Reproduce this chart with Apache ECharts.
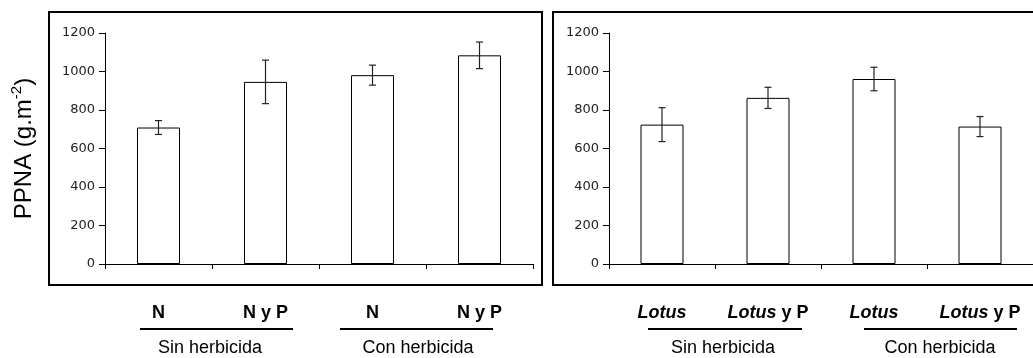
<!DOCTYPE html>
<html>
<head>
<meta charset="utf-8">
<script src="https://cdn.jsdelivr.net/npm/echarts@6/dist/echarts.min.js"></script>
<style>
  html, body { margin: 0; padding: 0; background: #fff; }
  #chart { width: 1033px; height: 358px; }
</style>
</head>
<body>
<div id="chart"></div>
<script>
// Aboveground net primary production (PPNA), mean ± error, per treatment
const categoriesLeft = ['N', 'N y P', 'N', 'N y P'];
const valuesLeft = [709, 946, 981, 1084];
const errorsLeft = [36, 113, 52, 69];

const categoriesRight = ['Lotus', 'Lotus y P', 'Lotus', 'Lotus y P'];
const valuesRight = [724, 863, 961, 714];
const errorsRight = [88, 55, 61, 52];

const groupLabels = ['Sin herbicida', 'Con herbicida'];
const yMin = 0, yMax = 1200, yStep = 200;

const SANS = '"Liberation Sans", Arial, sans-serif';
const TICKFONT = '"DejaVu Sans", Verdana, sans-serif';

function leftLabel(v) {
  return '{b|' + v + '}';
}
function rightLabel(v) {
  return v === 'Lotus' ? '{i|Lotus}' : '{i|Lotus}{b| y P}';
}

const catRich = {
  b: { fontFamily: SANS, fontWeight: 'bold', fontSize: 18, color: '#000' },
  i: { fontFamily: SANS, fontWeight: 'bold', fontStyle: 'italic', fontSize: 18, color: '#000' }
};

function xAxisFor(gridIndex, cats, fmt) {
  return {
    type: 'category',
    gridIndex: gridIndex,
    data: cats,
    axisLine: { lineStyle: { color: '#000', width: 1 } },
    axisTick: { show: true, alignWithLabel: false, length: 5, lineStyle: { color: '#000' } },
    axisLabel: { margin: 40, formatter: fmt, rich: catRich, interval: 0 },
    splitLine: { show: false }
  };
}

function yAxisFor(gridIndex, withName) {
  const ax = {
    type: 'value',
    gridIndex: gridIndex,
    min: yMin, max: yMax, interval: yStep,
    axisLine: { show: true, lineStyle: { color: '#000', width: 1 } },
    axisTick: { show: true, length: 6, lineStyle: { color: '#000' } },
    axisLabel: {
      margin: 10, fontFamily: TICKFONT, fontSize: 13, color: '#222',
      formatter: v => String(v)
    },
    splitLine: { show: false }
  };
  if (withName) {
    ax.name = '{a|PPNA (g.m}{s|-2}{a|)}';
    ax.nameLocation = 'middle';
    ax.nameRotate = 90;
    ax.nameGap = 66;
    ax.nameTextStyle = {
      rich: {
        a: { fontFamily: SANS, fontSize: 24, color: '#000', lineHeight: 30 },
        s: { fontFamily: SANS, fontSize: 15, color: '#000', verticalAlign: 'top', lineHeight: 30 }
      }
    };
  }
  return ax;
}

function barSeries(idx, values) {
  return {
    type: 'bar',
    xAxisIndex: idx, yAxisIndex: idx,
    data: values,
    barWidth: 43,
    itemStyle: { color: '#fff', borderColor: '#000', borderWidth: 1 },
    silent: true
  };
}

function errorSeries(idx, values, errors) {
  return {
    type: 'custom',
    xAxisIndex: idx, yAxisIndex: idx,
    data: values.map((v, i) => [i, v - errors[i], v + errors[i]]),
    encode: { x: 0, y: [1, 2] },
    z: 5,
    silent: true,
    renderItem: function (params, api) {
      const lo = api.coord([api.value(0), api.value(1)]);
      const hi = api.coord([api.value(0), api.value(2)]);
      const cap = 3.5;
      const st = { stroke: '#222', lineWidth: 1.2 };
      return {
        type: 'group',
        children: [
          { type: 'line', shape: { x1: hi[0], y1: hi[1], x2: lo[0], y2: lo[1] }, style: st },
          { type: 'line', shape: { x1: hi[0] - cap, y1: hi[1], x2: hi[0] + cap, y2: hi[1] }, style: st },
          { type: 'line', shape: { x1: lo[0] - cap, y1: lo[1], x2: lo[0] + cap, y2: lo[1] }, style: st }
        ]
      };
    }
  };
}

function groupText(cx, y, text) {
  return {
    type: 'text', x: cx, y: y,
    style: { text: text, fontFamily: SANS, fontSize: 18, fill: '#000', align: 'center', verticalAlign: 'middle' }
  };
}
function groupLine(x1, x2, y) {
  return { type: 'line', shape: { x1: x1, y1: y, x2: x2, y2: y }, style: { stroke: '#000', lineWidth: 2 } };
}

const chart = echarts.init(document.getElementById('chart'), null, { renderer: 'canvas' });

chart.setOption({
  animation: false,
  backgroundColor: '#fff',
  grid: [
    { left: 105, top: 33, width: 428, height: 231 },
    { left: 609, top: 33, width: 428, height: 231 }
  ],
  xAxis: [xAxisFor(0, categoriesLeft, leftLabel), xAxisFor(1, categoriesRight, rightLabel)],
  yAxis: [yAxisFor(0, true), yAxisFor(1, false)],
  series: [
    barSeries(0, valuesLeft),
    errorSeries(0, valuesLeft, errorsLeft),
    barSeries(1, valuesRight),
    errorSeries(1, valuesRight, errorsRight)
  ],
  graphic: [
    // panel frames
    { type: 'rect', shape: { x: 49, y: 12, width: 493, height: 273 }, style: { fill: 'none', stroke: '#000', lineWidth: 2 } },
    { type: 'rect', shape: { x: 553, y: 12, width: 500, height: 273 }, style: { fill: 'none', stroke: '#000', lineWidth: 2 } },
    // treatment groups under the category labels
    groupLine(140, 293, 329), groupText(210, 348, groupLabels[0]),
    groupLine(340, 493, 329), groupText(418, 348, groupLabels[1]),
    groupLine(648, 802, 329), groupText(723, 348, groupLabels[0]),
    groupLine(864, 1017, 329), groupText(940, 348, groupLabels[1])
  ]
});
</script>
</body>
</html>
